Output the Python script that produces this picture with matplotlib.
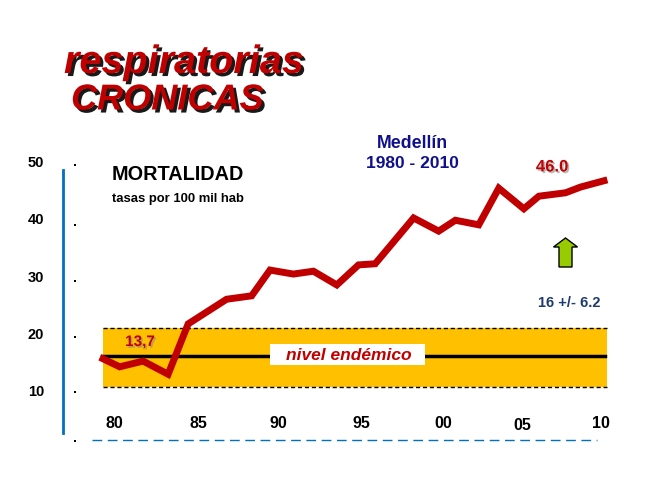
import matplotlib
matplotlib.use("Agg")
import matplotlib.pyplot as plt
import matplotlib.patheffects as pe
from matplotlib.patches import Rectangle, FancyArrow

plt.rcParams["font.family"] = ["Liberation Sans", "DejaVu Sans"]

# mortality rate per 100 000, Medellín
years = [1980.0, 1981.0, 1982.4, 1983.9, 1985.1, 1987.4, 1988.9, 1990.0,
         1991.4, 1992.6, 1994.0, 1995.3, 1996.3, 1998.6, 2000.1, 2001.1,
         2002.5, 2003.7, 2005.2, 2006.1, 2007.7, 2008.6, 2010.0]
rates = [15.8, 14.4, 15.4, 13.1, 21.9, 26.2, 26.8, 31.3,
         30.6, 31.1, 28.7, 32.2, 32.4, 40.4, 38.1, 40.0,
         39.2, 45.6, 42.0, 44.2, 44.8, 45.8, 46.9]

endemic_mean = 16.3
endemic_low = 10.9
endemic_high = 21.1

xtick_labels = ["80", "85", "90", "95", "00", "05", "10"]
xtick_pos = [1980.7, 1985.7, 1990.5, 1995.5, 2000.4, 2005.1, 2009.8]
ytick_values = [50, 40, 30, 20, 10]
dot_values = [49.65, 39.2, 29.4, 19.6, 10.0, 1.4]

RED = "#C00000"
NAVY = "#10108C"

# pixel -> data helpers (figure is 653x488 px, axes cover the whole figure)
PX_PER_YEAR = 501 / 30
PX_PER_UNIT = 5.725


def dx(px):
    return 1980 + (px - 103) / PX_PER_YEAR


def dy(py):
    return 10 + (392 - py) / PX_PER_UNIT


fig = plt.figure(figsize=(6.53, 4.88), dpi=100)
ax = fig.add_axes([0, 0, 1, 1])
ax.set_xlim(dx(0), dx(653))
ax.set_ylim(dy(488), dy(0))
ax.axis("off")

# endemic band
ax.fill_between([1980, dx(607)], endemic_low, endemic_high, color="#FFC000", zorder=1, lw=0)
for lvl in (endemic_low, endemic_high):
    ax.plot([1980, dx(607)], [lvl, lvl], color="black", lw=1, ls=(0, (3, 2)), zorder=2)
ax.plot([dx(102), dx(605)], [endemic_mean, endemic_mean], color="black", lw=2.5, zorder=2)

ax.add_patch(Rectangle((dx(270), dy(365)), dx(425) - dx(270), dy(344) - dy(365),
                       facecolor="white", edgecolor="none", zorder=3))
ax.text(dx(349), dy(355), "nivel endémico", color=RED, fontsize=12.5,
        fontweight="bold", style="italic", ha="center", va="center", zorder=4)

# series
ax.plot(years, rates, color=RED, lw=5, solid_joinstyle="miter", zorder=5)

# axis decorations
ax.plot([dx(63), dx(63)], [dy(170), dy(433)], color="#0070C0", lw=2)
ax.plot([dx(92), dx(597)], [dy(440), dy(440)], color="#0070C0", lw=1, ls=(0, (7, 4)))
ax.scatter([dx(75)] * len(dot_values), dot_values, s=3, marker="s", color="black", lw=0)
for v in ytick_values:
    ax.text(dx(36), v, str(v), fontsize=10.5, fontweight="bold", ha="center", va="center")
for lab, pos in zip(xtick_labels, xtick_pos):
    yy = dy(425) if lab == "05" else dy(423)
    ax.text(pos, yy, lab, fontsize=11.5, fontweight="bold", ha="center", va="center")

# annotations
shadow = [pe.SimplePatchShadow(offset=(2.2, -2.2), shadow_rgbFace="black", alpha=0.9), pe.Normal()]
soft = [pe.SimplePatchShadow(offset=(1.2, -1.2), shadow_rgbFace="#888888", alpha=0.6), pe.Normal()]

ax.text(dx(64), dy(62), "respiratorias", color=RED, fontsize=28.5, fontweight="bold",
        style="italic", ha="left", va="center", path_effects=shadow)
ax.text(dx(71), dy(100), "CRONICAS", color=RED, fontsize=26, fontweight="bold",
        style="italic", ha="left", va="center", path_effects=shadow)

ax.text(dx(178), dy(175), "MORTALIDAD", fontsize=14.3, fontweight="bold",
        ha="center", va="center")
ax.text(dx(178), dy(199), "tasas por 100 mil hab", fontsize=9.4, fontweight="bold",
        ha="center", va="center")

ax.text(dx(412), dy(143), "Medellín", color=NAVY, fontsize=12.8, fontweight="bold",
        ha="center", va="center")
ax.text(dx(412), dy(163), "1980 - 2010", color=NAVY, fontsize=12.5, fontweight="bold",
        ha="center", va="center")

ax.text(dx(552), dy(167), "46.0", color=RED, fontsize=12, fontweight="bold",
        ha="center", va="center", path_effects=soft)
ax.text(dx(140), dy(342), "13,7", color=RED, fontsize=11, fontweight="bold",
        ha="center", va="center", path_effects=soft)
ax.text(dx(569), dy(303), "16 +/- 6.2", color="#1F3A6E", fontsize=10.5, fontweight="bold",
        ha="center", va="center")

ax.add_patch(FancyArrow(dx(565.5), dy(267), 0, dy(238) - dy(267),
                        width=dx(572) - dx(559), head_width=dx(577) - dx(553),
                        head_length=dy(238) - dy(247), length_includes_head=True,
                        facecolor="#99CC00", edgecolor="black", lw=1, zorder=6))

fig.savefig("out.png", dpi=100)
